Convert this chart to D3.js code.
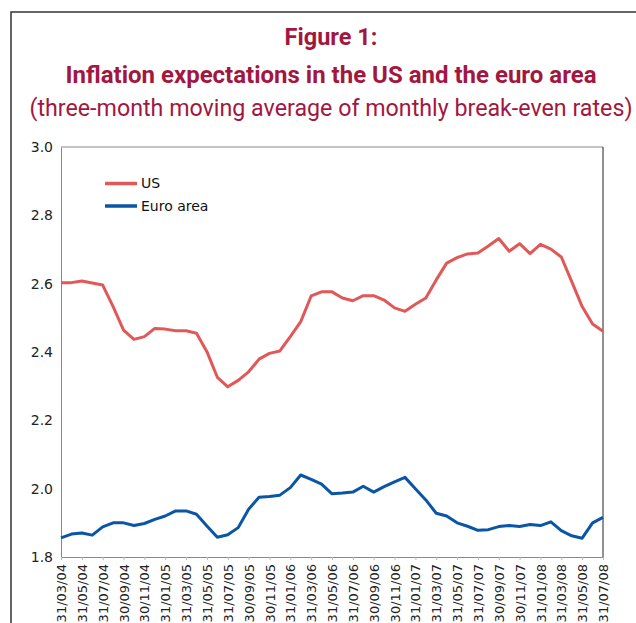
<!DOCTYPE html>
<html lang="en">
<head>
  <meta charset="UTF-8">
  <title>Figure 1: Inflation expectations in the US and the euro area</title>
  <script src="https://d3js.org/d3.v7.min.js"></script>
  <style>
    body { margin: 0; background: #fff; }
    .title { font-family: "Liberation Sans Narrow", "Roboto", sans-serif; fill: #a3173f; text-anchor: middle; }
    .tick text { font-family: "DejaVu Sans", sans-serif; fill: #222; }
    .legend text { font-family: "DejaVu Sans", sans-serif; font-size: 14px; fill: #111; }
  </style>
</head>
<body>
  <svg width="636" height="623"></svg>

  <script>
    // month-end dates, monthly series
    const months = [
      "31/03/04", "30/04/04", "31/05/04", "30/06/04", "31/07/04", "31/08/04", "30/09/04", "31/10/04", "30/11/04", "31/12/04",
      "31/01/05", "28/02/05", "31/03/05", "30/04/05", "31/05/05", "30/06/05", "31/07/05", "31/08/05", "30/09/05", "31/10/05", "30/11/05", "31/12/05",
      "31/01/06", "28/02/06", "31/03/06", "30/04/06", "31/05/06", "30/06/06", "31/07/06", "31/08/06", "30/09/06", "31/10/06", "30/11/06", "31/12/06",
      "31/01/07", "28/02/07", "31/03/07", "30/04/07", "31/05/07", "30/06/07", "31/07/07", "31/08/07", "30/09/07", "31/10/07", "30/11/07", "31/12/07",
      "31/01/08", "29/02/08", "31/03/08", "30/04/08", "31/05/08", "30/06/08", "31/07/08"
    ];

    const usValues = [
      2.603, 2.603, 2.608, 2.602, 2.596, 2.533, 2.464, 2.437, 2.445, 2.469,
      2.467, 2.462, 2.462, 2.455, 2.401, 2.326, 2.298, 2.317, 2.342, 2.379,
      2.396, 2.403, 2.445, 2.489, 2.564, 2.576, 2.576, 2.558, 2.550, 2.565,
      2.565, 2.552, 2.529, 2.519, 2.540, 2.558, 2.611, 2.660, 2.676, 2.687,
      2.690, 2.710, 2.732, 2.695, 2.717, 2.688, 2.715, 2.701, 2.678, 2.606,
      2.533, 2.482, 2.461
    ];

    const euroValues = [
      1.856, 1.867, 1.870, 1.864, 1.888, 1.900, 1.900, 1.892, 1.898, 1.910,
      1.920, 1.935, 1.935, 1.925, 1.891, 1.858, 1.865, 1.886, 1.940, 1.975,
      1.977, 1.981, 2.003, 2.040, 2.027, 2.013, 1.985, 1.987, 1.990, 2.007,
      1.990, 2.006, 2.020, 2.033, 2.000, 1.967, 1.928, 1.920, 1.900, 1.890,
      1.878, 1.880, 1.889, 1.892, 1.889, 1.895, 1.892, 1.903, 1.877, 1.862,
      1.855, 1.900, 1.916
    ];

    const yTicks = [1.8, 2.0, 2.2, 2.4, 2.6, 2.8, 3.0];

    const series = [
      { name: "US", values: usValues, color: "#e05858" },
      { name: "Euro area", values: euroValues, color: "#0a55a5" }
    ];

    const titleLines = [
      { text: "Figure 1:", weight: "bold", y: 45, len: 93 },
      { text: "Inflation expectations in the US and the euro area", weight: "bold", y: 83, len: 531 },
      { text: "(three-month moving average of monthly break-even rates)", weight: "normal", y: 116, len: 603 }
    ];

    const svg = d3.select("svg");

    // outer frame running off the page
    svg.append("rect")
      .attr("x", 11).attr("y", 12)
      .attr("width", 700).attr("height", 700)
      .attr("fill", "none")
      .attr("stroke", "#333")
      .attr("stroke-width", 1.5);

    svg.selectAll(".title")
      .data(titleLines)
      .enter().append("text")
      .attr("class", "title")
      .attr("x", 331)
      .attr("y", d => d.y)
      .attr("font-size", 23)
      .attr("font-weight", d => d.weight)
      .attr("textLength", d => d.len)
      .attr("lengthAdjust", "spacingAndGlyphs")
      .text(d => d.text);

    const margin = { top: 147, right: 33, bottom: 66, left: 61 };
    const width = 636 - margin.left - margin.right;
    const height = 623 - margin.top - margin.bottom;

    const g = svg.append("g")
      .attr("transform", `translate(${margin.left},${margin.top})`);

    const x = d3.scalePoint().domain(months).range([0, width]);
    const y = d3.scaleLinear().domain([1.8, 3.0]).range([height, 0]);

    // plot frame
    g.append("line").attr("x1", 0).attr("x2", width).attr("y1", 0).attr("y2", 0)
      .attr("stroke", "#888");
    g.append("line").attr("x1", width).attr("x2", width).attr("y1", 0).attr("y2", height)
      .attr("stroke", "#222");

    const gY = g.append("g")
      .call(d3.axisLeft(y).tickValues(yTicks).tickFormat(d3.format(".1f")).tickSize(0).tickPadding(8));
    gY.select(".domain").attr("stroke", "#888");
    gY.selectAll("text").attr("font-size", 14);

    const gX = g.append("g")
      .attr("transform", `translate(0,${height})`)
      .call(d3.axisBottom(x).tickValues(months.filter((d, i) => i % 2 === 0)).tickSize(3).tickPadding(6));
    gX.select(".domain").attr("stroke", "#888");
    gX.selectAll(".tick line").attr("stroke", "#bbb");
    gX.selectAll("text")
      .attr("font-size", 13)
      .attr("text-anchor", "end")
      .attr("transform", "rotate(-90)")
      .attr("x", -7)
      .attr("y", 0)
      .attr("dy", "0.35em");

    const line = d3.line()
      .x((d, i) => x(months[i]))
      .y(d => y(d));

    g.selectAll(".series")
      .data(series)
      .enter().append("path")
      .attr("class", "series")
      .attr("fill", "none")
      .attr("stroke", d => d.color)
      .attr("stroke-width", 3)
      .attr("stroke-linejoin", "round")
      .attr("d", d => line(d.values));

    // legend
    const legend = svg.append("g").attr("class", "legend");
    const items = legend.selectAll("g")
      .data(series)
      .enter().append("g")
      .attr("transform", (d, i) => `translate(105,${183.5 + i * 22.5})`);
    items.append("line")
      .attr("x1", 0).attr("x2", 32)
      .attr("stroke", d => d.color)
      .attr("stroke-width", 3.5);
    items.append("text")
      .attr("x", 36)
      .attr("dy", "0.35em")
      .text(d => d.name);
  </script>
</body>
</html>
